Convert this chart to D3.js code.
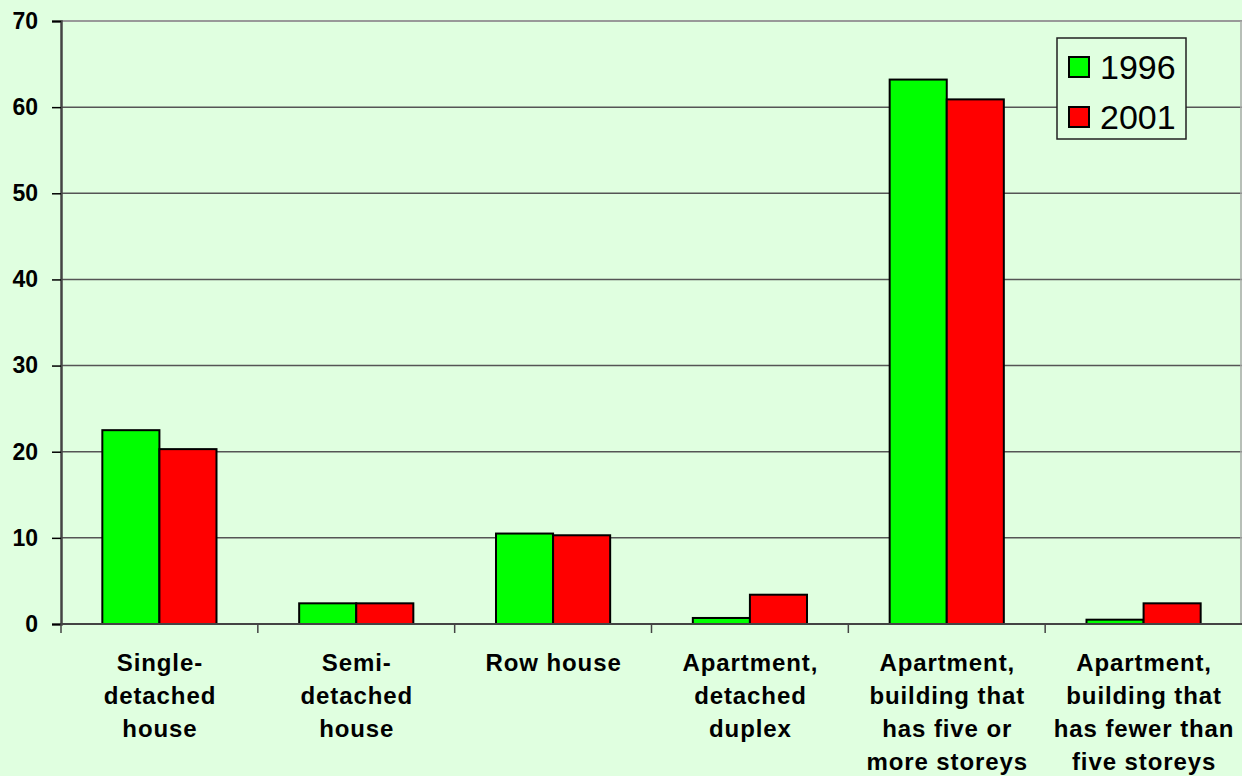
<!DOCTYPE html>
<html>
<head>
<meta charset="utf-8">
<script src="https://cdn.jsdelivr.net/npm/d3@7"></script>
<style>
  html, body { margin: 0; padding: 0; background: #e0ffe0; }
  svg { display: block; }
</style>
</head>
<body>
<div id="chart"></div>
<script>
// dwelling types, one label line per entry
const categories = [
    ["Single-", "detached", "house"],
    ["Semi-", "detached", "house"],
    ["Row house"],
    ["Apartment,", "detached", "duplex"],
    ["Apartment,", "building that", "has five or", "more storeys"],
    ["Apartment,", "building that", "has fewer than", "five storeys"]
];
const years = ["1996", "2001"];
const values1996 = [22.5, 2.4, 10.5, 0.7, 63.2, 0.5];
const values2001 = [20.3, 2.4, 10.3, 3.4, 60.9, 2.4];
const yTicks = [0, 10, 20, 30, 40, 50, 60, 70];
const colors = ["#00ff00", "#ff0000"];

const width = 1242, height = 776;
const margin = { top: 21, right: 0, bottom: 152, left: 61 };
const innerWidth = width - margin.left - margin.right;
const innerHeight = height - margin.top - margin.bottom;

const svg = d3.select("#chart").append("svg")
    .attr("width", width)
    .attr("height", height);

svg.append("rect")
    .attr("width", width)
    .attr("height", height)
    .attr("fill", "#e0ffe0");

const g = svg.append("g")
    .attr("transform", "translate(" + margin.left + "," + margin.top + ")");

const idx = d3.range(categories.length);

const x0 = d3.scaleBand()
    .domain(idx)
    .range([0, innerWidth])
    .paddingInner(0.42)
    .paddingOuter(0.21);

const x1 = d3.scaleBand()
    .domain(years)
    .range([0, x0.bandwidth()]);

const y = d3.scaleLinear()
    .domain([0, 70])
    .range([innerHeight, 0]);

// gridlines
g.selectAll(".grid")
    .data(yTicks.filter(t => t > 0))
    .enter()
    .append("line")
    .attr("class", "grid")
    .attr("x1", 0)
    .attr("x2", innerWidth)
    .attr("y1", d => y(d))
    .attr("y2", d => y(d))
    .attr("stroke", d => d === 70 ? "#999999" : "#555555")
    .attr("stroke-width", d => d === 70 ? 2 : 1.5);

// right border of the plot
g.append("line")
    .attr("x1", innerWidth - 1).attr("x2", innerWidth - 1)
    .attr("y1", 0).attr("y2", innerHeight)
    .attr("stroke", "#aaaaaa")
    .attr("stroke-width", 1.5);

// bars
const rows = idx.map(i => ({ i: i, vals: [values1996[i], values2001[i]] }));

const groups = g.selectAll(".cat")
    .data(rows)
    .enter()
    .append("g")
    .attr("class", "cat")
    .attr("transform", d => "translate(" + x0(d.i) + ",0)");

groups.selectAll("rect")
    .data(d => d.vals.map((v, k) => ({ year: years[k], value: v, k: k })))
    .enter()
    .append("rect")
    .attr("x", d => x1(d.year))
    .attr("width", x1.bandwidth())
    .attr("y", d => y(d.value))
    .attr("height", d => y(0) - y(d.value))
    .attr("fill", d => colors[d.k])
    .attr("stroke", "#000")
    .attr("stroke-width", 2);

// y axis
const yAxis = g.append("g")
    .call(d3.axisLeft(y).tickValues(yTicks).tickSize(9).tickPadding(14).tickFormat(d3.format("d")));
yAxis.select(".domain").attr("stroke", "#444").attr("stroke-width", 2.5);
yAxis.selectAll(".tick line").attr("stroke", "#000").attr("stroke-width", 1.5);
yAxis.selectAll(".tick text")
    .attr("font-family", "Liberation Sans, Arial, sans-serif")
    .attr("font-size", 23)
    .attr("font-weight", "bold")
    .attr("fill", "#000");

// x axis: ticks between categories
const bounds = d3.range(categories.length + 1).map(k => k * x0.step());
const xAxis = g.append("g").attr("transform", "translate(0," + innerHeight + ")");
xAxis.append("line")
    .attr("x1", 0).attr("x2", innerWidth)
    .attr("stroke", "#444").attr("stroke-width", 2);
xAxis.selectAll(".xtick")
    .data(bounds.slice(0, -1))
    .enter()
    .append("line")
    .attr("class", "xtick")
    .attr("x1", d => d).attr("x2", d => d)
    .attr("y1", 0).attr("y2", 9)
    .attr("stroke", "#444").attr("stroke-width", 1.5);

// category labels
const labels = xAxis.selectAll(".xlabel")
    .data(rows)
    .enter()
    .append("text")
    .attr("class", "xlabel")
    .attr("text-anchor", "middle")
    .attr("font-family", "Liberation Sans, Arial, sans-serif")
    .attr("font-size", 24)
    .attr("font-weight", "bold")
    .attr("letter-spacing", "0.9px")
    .attr("fill", "#000")
    .attr("transform", d => "translate(" + (x0(d.i) + x0.bandwidth() / 2 + 0.5) + ",0)");

labels.selectAll("tspan")
    .data(d => categories[d.i])
    .enter()
    .append("tspan")
    .attr("x", 0)
    .attr("y", (d, k) => 47 + k * 33)
    .text(d => d);

// legend
const legend = svg.append("g").attr("transform", "translate(1057,38)");
legend.append("rect")
    .attr("width", 129).attr("height", 101)
    .attr("fill", "#e0ffe0")
    .attr("stroke", "#222").attr("stroke-width", 1.5);

const items = legend.selectAll(".item")
    .data(years)
    .enter()
    .append("g")
    .attr("class", "item")
    .attr("transform", (d, k) => "translate(12," + (19 + k * 50) + ")");

items.append("rect")
    .attr("width", 20).attr("height", 20)
    .attr("fill", (d, k) => colors[k])
    .attr("stroke", "#000").attr("stroke-width", 2);

items.append("text")
    .attr("x", 31)
    .attr("y", 22)
    .attr("font-family", "Liberation Sans, Arial, sans-serif")
    .attr("font-size", 34)
    .attr("fill", "#000")
    .text(d => d);
</script>
</body>
</html>
